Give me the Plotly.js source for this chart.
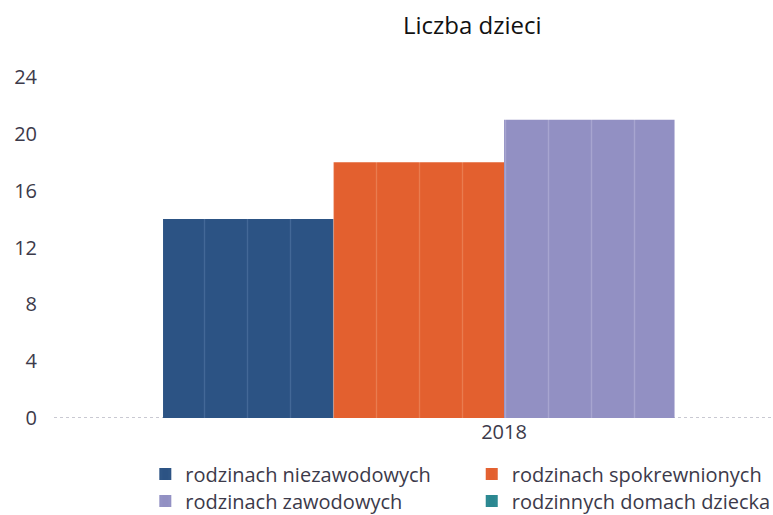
<!DOCTYPE html>
<html>
<head>
<meta charset="utf-8">
<script src="https://cdn.plot.ly/plotly-3.0.1.min.js"></script>
<style>html,body{margin:0;padding:0;background:#fff;}#chart{width:773px;height:515px;}</style>
</head>
<body>
<div id="chart"></div>
<script>
const categories = ['2018'];
const seriesNames = ['rodzinach niezawodowych', 'rodzinach spokrewnionych', 'rodzinach zawodowych', 'rodzinnych domach dziecka'];
const niezawodowych = [14];
const spokrewnionych = [18];
const zawodowych = [21];
const domachDziecka = [0];
const yTicks = [0, 4, 8, 12, 16, 20, 24];
const seriesValues = [niezawodowych, spokrewnionych, zawodowych, domachDziecka];
const colors = ['#2c5384', '#e3602f', '#9290c3', '#2a8790'];
const stripeColors = ['#5a7ea9', '#f09870', '#bbb9dd', '#5eb5b9'];
const legendIds = ['legend', 'legend2', 'legend3', 'legend4'];

const traces = seriesNames.map((name, i) => ({
  type: 'bar',
  name: name,
  x: categories,
  y: seriesValues[i],
  legend: legendIds[i],
  marker: {
    color: colors[i],
    line: {width: 0},
    pattern: {shape: '|', fgcolor: stripeColors[i], bgcolor: colors[i], size: 43, solidity: 0.03, fillmode: 'overlay'}
  },
  hoverinfo: 'skip'
}));

const legendBase = {
  orientation: 'v',
  xanchor: 'left',
  yanchor: 'middle',
  font: {size: 20, color: '#3c3a4a'},
  traceorder: 'normal',
  tracegroupgap: 0,
  bgcolor: 'rgba(0,0,0,0)'
};

const layout = {
  width: 773,
  height: 515,
  paper_bgcolor: '#ffffff',
  plot_bgcolor: '#ffffff',
  font: {family: '"Open Sans", "Noto Sans", sans-serif', color: '#3c3a4a', size: 20},
  margin: {l: 54, r: 0, t: 77, b: 97, pad: 0, autoexpand: false},
  title: {text: 'Liczba dzieci', font: {size: 24, color: '#111111'}, x: 0.611, xanchor: 'center', y: 0.95, yanchor: 'middle'},
  barmode: 'group',
  bargap: 0.2,
  bargroupgap: 0,
  showlegend: true,
  xaxis: {
    type: 'category',
    range: [-0.5279, 0.3155],
    showgrid: false,
    showline: false,
    zeroline: false,
    ticks: '',
    tickfont: {size: 20, color: '#3c3a4a'},
    fixedrange: true
  },
  yaxis: {
    range: [0, 24],
    tickvals: yTicks,
    ticktext: yTicks.map(String),
    showgrid: false,
    zeroline: false,
    showline: false,
    ticks: '',
    ticklabelstandoff: 16,
    tickfont: {size: 20, color: '#3c3a4a'},
    fixedrange: true
  },
  shapes: [{
    type: 'line', xref: 'paper', yref: 'y', x0: 0, x1: 1, y0: 0, y1: 0,
    line: {color: '#b8b8c4', width: 1.5, dash: 'dot'}, layer: 'below'
  }],
  legend: Object.assign({}, legendBase, {x: 0.127, y: -0.1642}),
  legend2: Object.assign({}, legendBase, {x: 0.581, y: -0.1642}),
  legend3: Object.assign({}, legendBase, {x: 0.127, y: -0.2434}),
  legend4: Object.assign({}, legendBase, {x: 0.581, y: -0.2434})
};

Plotly.newPlot('chart', traces, layout, {displayModeBar: false, staticPlot: true});
</script>
</body>
</html>
